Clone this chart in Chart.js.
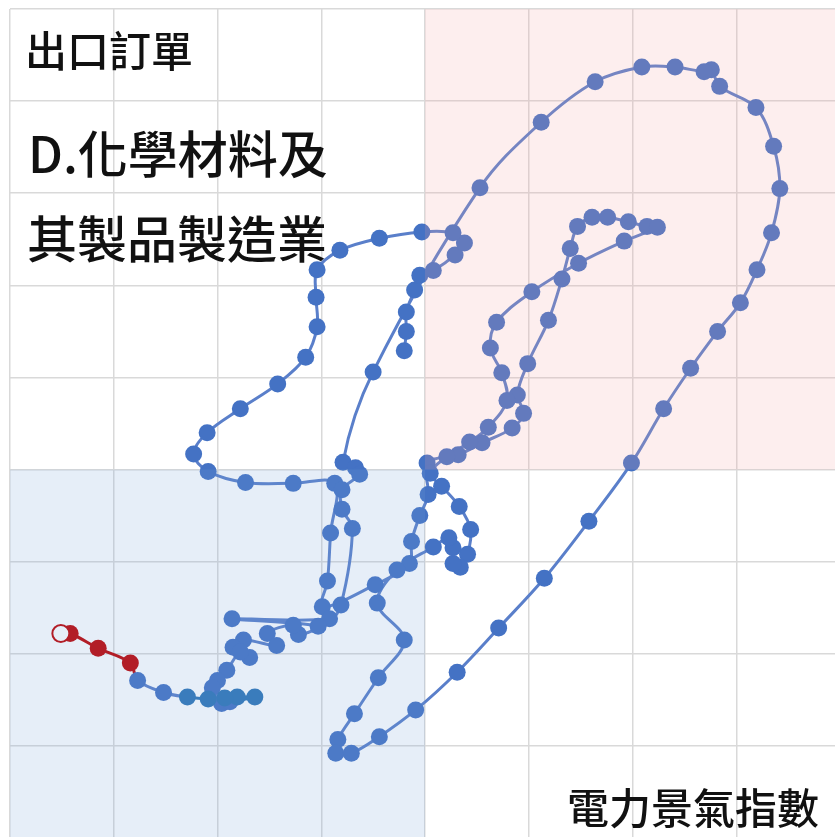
<!DOCTYPE html>
<html>
<head>
<meta charset="utf-8">
<script src="https://cdn.jsdelivr.net/npm/chart.js@4.4.0/dist/chart.umd.min.js"></script>
<style>
  html, body { margin: 0; padding: 0; background: #fff; overflow: hidden; }
  #wrap { position: relative; width: 835px; height: 837px; overflow: hidden; }
  #chart { position: absolute; left: 0; top: 0; }
  .lbl { position: absolute; font-family: 'Noto Sans CJK TC', 'Noto Sans', sans-serif; font-weight: 500; color: #111; line-height: 1; white-space: nowrap; }
</style>
</head>
<body>
<div id="wrap">
  <canvas id="chart" width="840" height="838"></canvas>
  <div class="lbl" style="left:25px;top:28px;font-size:42px;">出口訂單</div>
  <div class="lbl" style="left:28px;top:126px;font-size:50px;">D.化學材料及</div>
  <div class="lbl" style="left:27px;top:211px;font-size:50px;">其製品製造業</div>
  <div class="lbl" style="left:567px;top:785px;font-size:42px;">電力景氣指數</div>
</div>
<script>
// 電力景氣指數 (x) / 出口訂單 (y), one grid step = 1
const historyX = [-0.20, -0.18, -0.18, -0.10, -0.05, 0.08, 0.29, 0.38, 0.27, -0.03,
    -0.44, -0.82, -1.04, -1.05, -1.04, -1.15, -1.42, -1.78, -2.10, -2.23,
    -2.09, -1.73, -1.27, -0.87, -0.91, -0.94, -0.99, -0.48, -0.15, -0.13,
    -0.05, 0.03, 0.02, 0.32, 0.55, 0.84, 0.95, 0.89, 0.99, 1.19,
    1.32, 1.40, 1.47, 1.61, 1.76, 1.96, 2.14, 2.24, 1.92, 1.48,
    1.03, 0.69, 0.63, 0.74, 0.79, 0.61, 0.43, 0.21, 0.05, 0.16,
    0.33, 0.44, 0.41, 0.34, 0.27, 0.27, 0.23, 0.08, -0.27, -0.46,
    -0.20, -0.45, -0.68, -0.84, -0.86, -0.71, -0.44, -0.09, 0.31, 0.71,
    1.15, 1.58, 1.99, 2.30, 2.56, 2.82, 3.04, 3.20, 3.34, 3.42,
    3.36, 3.19, 2.84, 2.76, 2.69, 2.41, 2.09, 1.64, 1.12, 0.53,
    -0.50, -0.79, -0.67, -0.63, -0.80, -0.80, -0.70, -0.81, -0.92, -1.86,
    -1.03, -1.22, -1.27, -1.52, -1.43, -1.75, -1.85, -1.69, -1.78, -1.91,
    -2.00, -2.05, -1.96, -1.88];
const historyY = [1.29, 1.50, 1.71, 1.95, 2.11, 2.16, 2.33, 2.46, 2.57, 2.58,
    2.51, 2.38, 2.17, 1.87, 1.55, 1.22, 0.93, 0.66, 0.40, 0.17,
    -0.02, -0.14, -0.15, -0.15, -0.69, -1.21, -1.49, -1.25, -1.02, -0.78,
    -0.50, -0.27, 0.07, 0.16, 0.29, 0.45, 0.61, 0.81, 1.15, 1.62,
    2.07, 2.40, 2.64, 2.74, 2.74, 2.69, 2.64, 2.63, 2.48, 2.24,
    1.93, 1.60, 1.32, 1.05, 0.75, 0.46, 0.30, 0.14, -0.04, -0.18,
    -0.40, -0.65, -0.92, -1.06, -1.02, -0.85, -0.74, -0.84, -1.09, -1.45,
    -1.85, -2.26, -2.65, -2.93, -3.08, -3.08, -2.90, -2.61, -2.20, -1.72,
    -1.18, -0.56, 0.07, 0.66, 1.10, 1.50, 1.81, 2.17, 2.57, 3.05,
    3.51, 3.93, 4.16, 4.34, 4.32, 4.37, 4.37, 4.21, 3.77, 3.06,
    1.06, 0.08, 0.02, -0.05, -0.22, -0.43, -0.64, -1.47, -1.62, -1.62,
    -1.70, -1.79, -1.69, -1.78, -1.91, -1.85, -1.93, -2.04, -1.98, -2.18,
    -2.29, -2.37, -2.54, -2.52];

const tealX = [-1.64, -1.81, -1.93, -2.09, -2.29];
const tealY = [-2.47, -2.47, -2.48, -2.49, -2.47];

const bridgeX = [-2.52, -2.77];
const bridgeY = [-2.42, -2.29];

const latestX = [-2.84, -3.15, -3.42, -3.51];
const latestY = [-2.10, -1.94, -1.78, -1.78];

const xTitle = '電力景氣指數';
const yTitle = '出口訂單';

const BLUE = '#4472c4';
const TEAL = '#2e75b6';
const RED = '#c00000';

function buildPoints() {
    const pts = [];
    const colors = [];
    const add = (xs, ys, color) => {
        xs.forEach((v, i) => { pts.push({ x: v, y: ys[i] }); colors.push(color); });
    };
    add(historyX, historyY, BLUE);
    add(tealX, tealY, TEAL);
    add(bridgeX, bridgeY, BLUE);
    add(latestX, latestY, RED);
    return { pts, colors };
}

const quadrantShade = {
    id: 'quadrantShade',
    afterDatasetsDraw(chart) {
        const { ctx, chartArea: a, scales: { x, y } } = chart;
        const cx = x.getPixelForValue(0);
        const cy = y.getPixelForValue(0);
        ctx.save();
        ctx.fillStyle = 'rgba(244,161,161,0.18)';
        ctx.fillRect(cx, a.top, a.right - cx, cy - a.top);
        ctx.fillStyle = 'rgba(118,161,216,0.18)';
        ctx.fillRect(a.left, cy, cx - a.left, a.bottom - cy);
        ctx.restore();
    }
};

function LoadTrajectoryChart(chartId) {
    const context = document.getElementById(chartId).getContext('2d');
    const { pts, colors } = buildPoints();
    const last = pts.length - 1;

    const fills = colors.slice();
    fills[last] = '#ffffff';
    const borderWidths = colors.map((c, i) => i === last ? 2 : 0);
    const lineColor = (c) => c === BLUE ? '#5a7fca' : c;
    const noSize = (scale) => { scale.width = 0; scale.height = 0; };

    new Chart(context, {
        type: 'scatter',
        data: {
            datasets: [{
                label: yTitle,
                data: pts,
                showLine: true,
                tension: 0.35,
                borderWidth: 3,
                borderColor: '#5a7fca',
                segment: {
                    borderColor: (ctx) => lineColor(colors[ctx.p1DataIndex])
                },
                pointRadius: 8.5,
                pointHoverRadius: 8.5,
                pointBackgroundColor: fills,
                pointBorderColor: colors,
                pointBorderWidth: borderWidths
            }]
        },
        options: {
            responsive: false,
            animation: false,
            layout: { autoPadding: false, padding: { left: 10, top: 9, right: 0, bottom: 0 } },
            plugins: {
                legend: { display: false },
                tooltip: { enabled: false },
                title: { display: false }
            },
            scales: {
                x: {
                    type: 'linear',
                    min: -4,
                    max: 4,
                    afterFit: noSize,
                    ticks: { display: false, stepSize: 1 },
                    grid: { color: '#d9d9d9', lineWidth: 1.5, drawTicks: false },
                    border: { display: false },
                    title: { display: false, text: xTitle }
                },
                y: {
                    type: 'linear',
                    min: -4,
                    max: 5,
                    afterFit: noSize,
                    ticks: { display: false, stepSize: 1 },
                    grid: { color: '#d9d9d9', lineWidth: 1.5, drawTicks: false },
                    border: { display: false },
                    title: { display: false, text: yTitle }
                }
            }
        },
        plugins: [quadrantShade]
    });
}

LoadTrajectoryChart('chart');
</script>
</body>
</html>
